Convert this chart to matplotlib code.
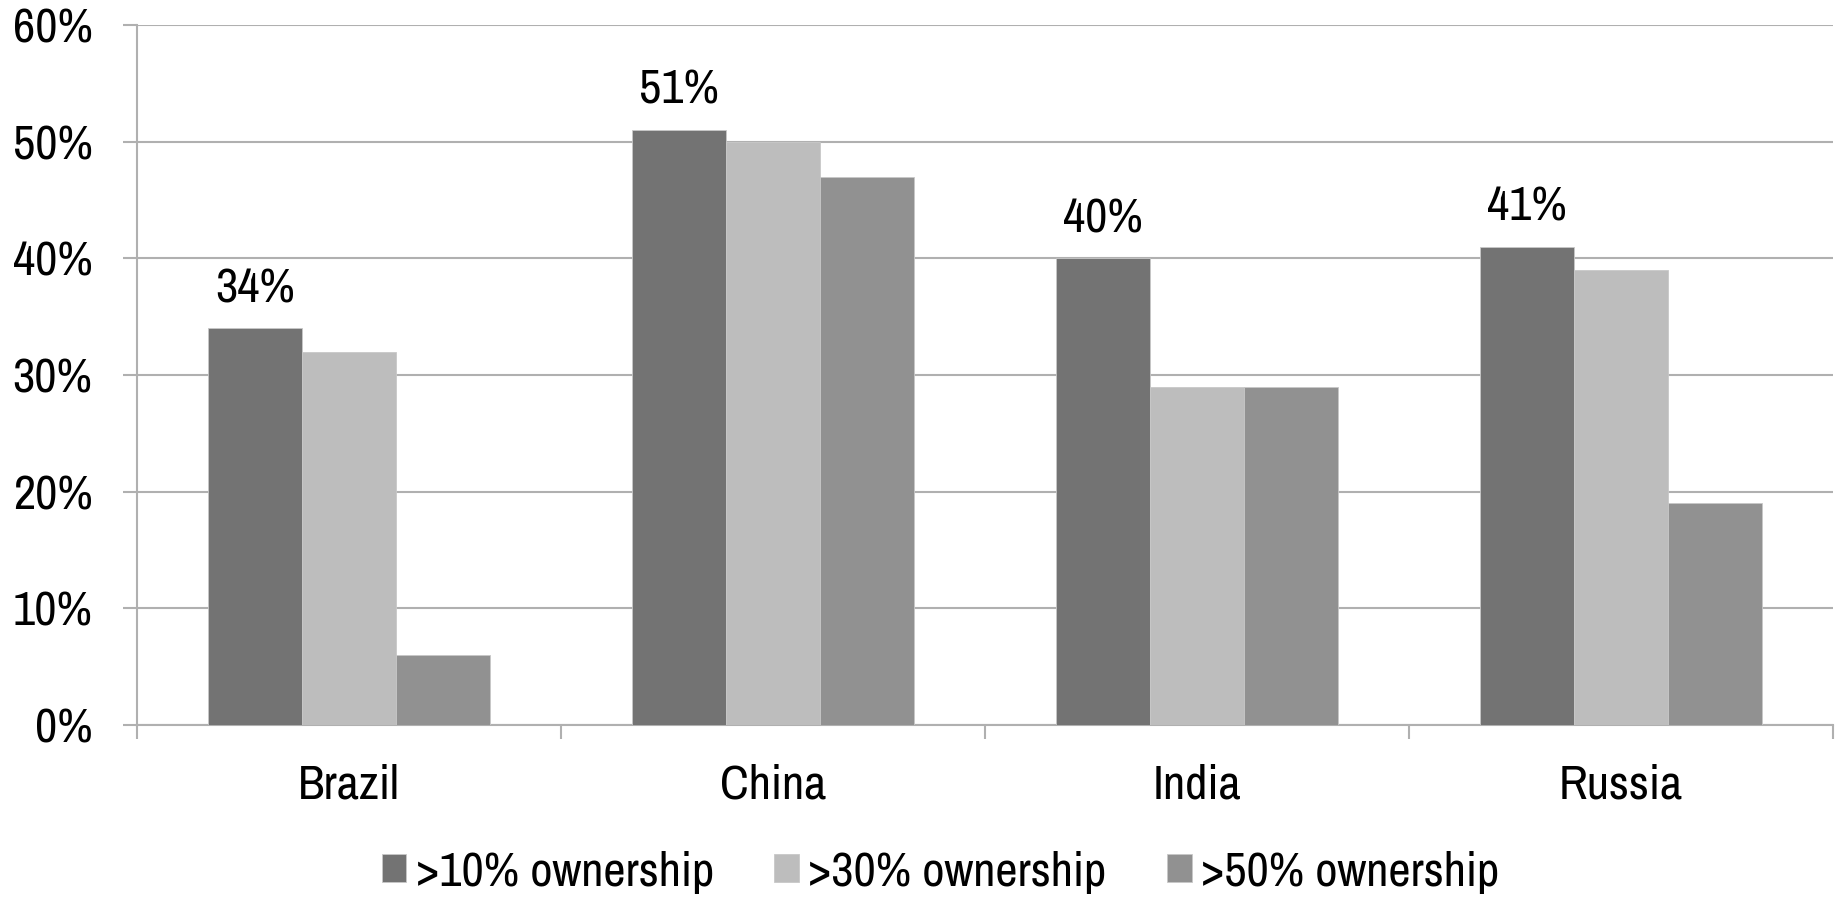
import numpy as np
import matplotlib
matplotlib.use("Agg")
import matplotlib.pyplot as plt
from matplotlib.ticker import FuncFormatter, FixedLocator

plt.rcParams['font.family'] = ['Archivo Narrow', 'Liberation Sans', 'DejaVu Sans']

# ownership share per country
countries = ['Brazil', 'China', 'India', 'Russia']
series_names = ['>10% ownership', '>30% ownership', '>50% ownership']
own_10 = [34, 51, 40, 41]
own_30 = [32, 50, 29, 39]
own_50 = [6, 47, 29, 19]
series_colors = ['#737373', '#bdbdbd', '#919191']

grid_col = '#b0b0b0'
fs = 35

fig = plt.figure(figsize=(18.37, 8.99), dpi=100)
ax = fig.add_axes([0.0746, 0.1935, 0.9232, 0.7787])

x = np.arange(len(countries))
bw = 0.221
for k, (vals, name, col) in enumerate(zip([own_10, own_30, own_50], series_names, series_colors)):
    bars = ax.bar(x + (k - 1) * bw, vals, bw, color=col, label=name, zorder=3,
                  edgecolor='#c8c8c8', linewidth=0.6)
    if k == 0:
        for b, v in zip(bars, vals):
            ax.annotate(f"{v}%", (b.get_x() + b.get_width() / 2, v),
                        xytext=(0, 13), textcoords='offset points',
                        ha='center', va='bottom', fontsize=fs)

ax.set_xlim(-0.5, 3.5)
ax.set_ylim(0, 60)
ax.set_yticks(np.arange(0, 61, 10))
ax.yaxis.set_major_formatter(FuncFormatter(lambda v, p: f"{v:.0f}%"))
ax.grid(axis='y', color=grid_col, linewidth=1.5, zorder=0)

# category separators as major ticks, labels on minor ticks
ax.xaxis.set_major_locator(FixedLocator(np.arange(-0.5, 4, 1)))
ax.xaxis.set_major_formatter(plt.NullFormatter())
ax.xaxis.set_minor_locator(FixedLocator(x))
ax.set_xticklabels(countries, minor=True)
ax.tick_params(axis='x', which='major', length=10, width=1.5, color=grid_col)
ax.tick_params(axis='x', which='minor', length=0, pad=28, labelsize=fs)
ax.tick_params(axis='y', length=10, width=1.5, color=grid_col, pad=22, labelsize=fs)

for s in ['top', 'right']:
    ax.spines[s].set_visible(False)
for s in ['left', 'bottom']:
    ax.spines[s].set_color(grid_col)
    ax.spines[s].set_linewidth(1.5)

fig.legend(loc='center', bbox_to_anchor=(0.512, 0.03), ncol=3, frameon=False,
           fontsize=fs, handlelength=0.5, handleheight=0.5, handletextpad=0.2,
           columnspacing=1.25, borderaxespad=0)

fig.savefig('out.png', dpi=100)
